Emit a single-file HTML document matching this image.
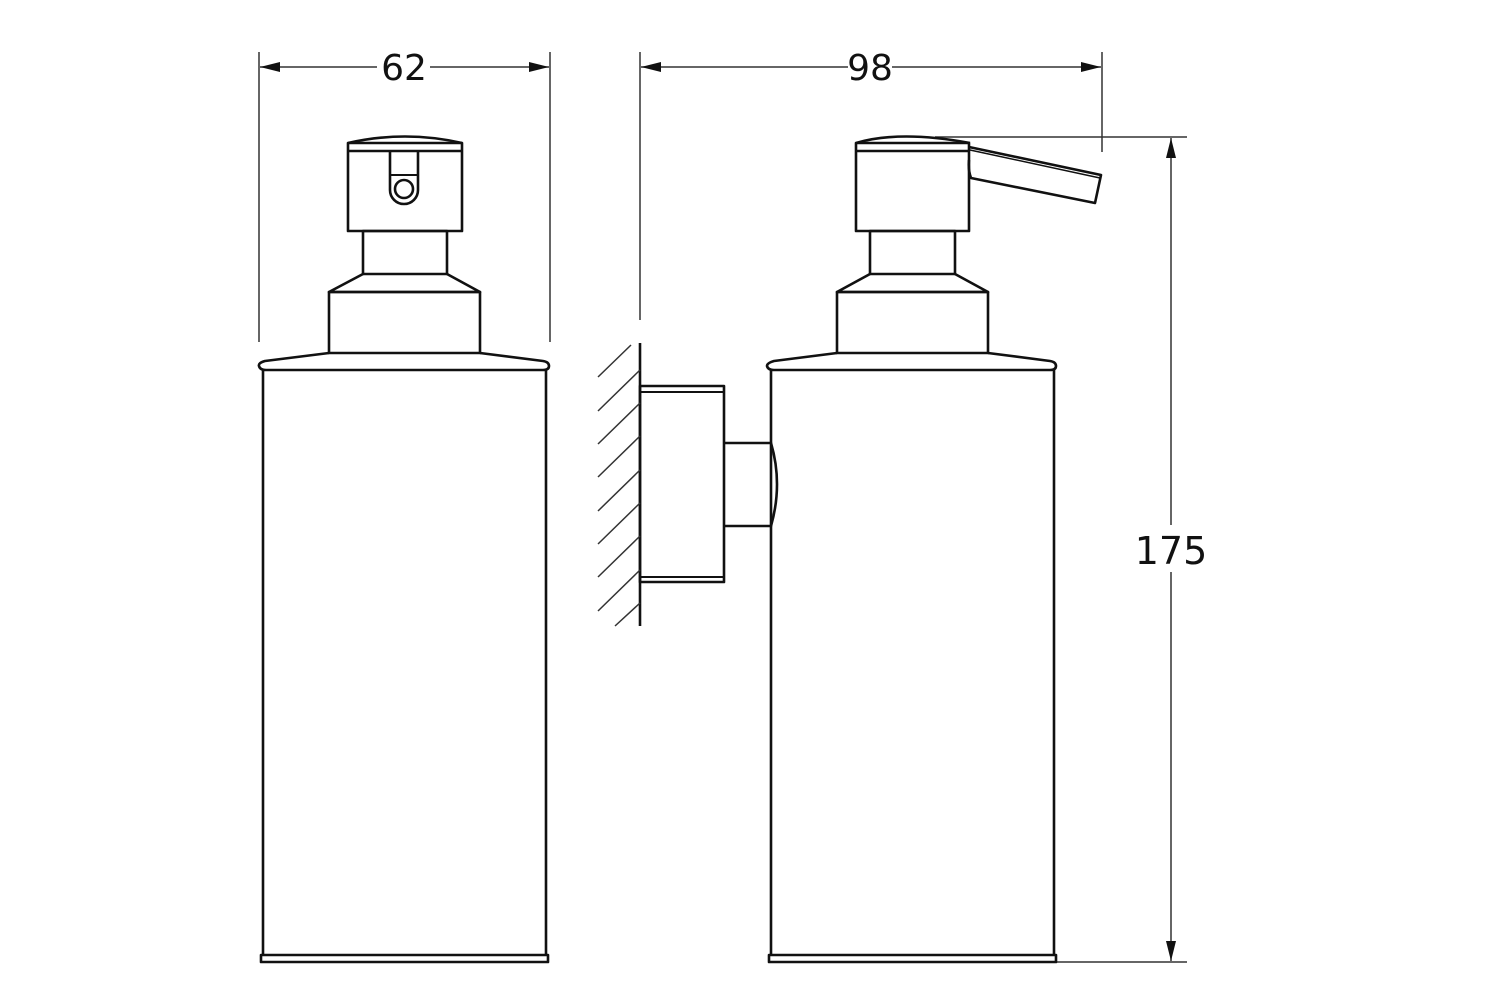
<!DOCTYPE html>
<html><head><meta charset="utf-8"><style>
html,body{margin:0;padding:0;background:#fff;width:1500px;height:1000px;overflow:hidden}
svg{display:block}
text{font-family:"DejaVu Sans","Liberation Sans",sans-serif;fill:#111}
</style></head><body>
<svg width="1500" height="1000" viewBox="0 0 1500 1000" xmlns="http://www.w3.org/2000/svg">
<defs>
<marker id="ah" viewBox="0 0 20 10" refX="20" refY="5" markerWidth="20" markerHeight="10" markerUnits="userSpaceOnUse" orient="auto-start-reverse">
<path d="M0,0 L20,5 L0,10 z" fill="#111"/></marker>
</defs>
<g stroke="#333" stroke-width="1.5" fill="none">
<!-- dim 62 -->
<line x1="259" y1="52" x2="259" y2="342"/>
<line x1="550" y1="52" x2="550" y2="342"/>
<line x1="260" y1="67" x2="377" y2="67" marker-start="url(#ah)"/>
<line x1="430" y1="67" x2="549" y2="67" marker-end="url(#ah)"/>
<!-- dim 98 -->
<line x1="640" y1="52" x2="640" y2="320"/>
<line x1="1102" y1="52" x2="1102" y2="152"/>
<line x1="641" y1="67" x2="848" y2="67" marker-start="url(#ah)"/>
<line x1="892" y1="67" x2="1101" y2="67" marker-end="url(#ah)"/>
<!-- dim 175 -->
<line x1="935" y1="137" x2="1187" y2="137"/>
<line x1="1052" y1="962" x2="1187" y2="962"/>
<line x1="1171" y1="138" x2="1171" y2="525" marker-start="url(#ah)"/>
<line x1="1171" y1="572" x2="1171" y2="961" marker-end="url(#ah)"/>
</g>
<text x="404" y="80" font-size="36" text-anchor="middle">62</text>
<text x="870" y="80" font-size="36" text-anchor="middle">98</text>
<text x="1171" y="564" font-size="38" text-anchor="middle">175</text>

<g stroke="#111" stroke-width="2.6" fill="none" stroke-linejoin="round">
<!-- LEFT dispenser -->
<path d="M348,143 Q405,130 462,143"/>
<rect x="348" y="143" width="114" height="88"/>
<line x1="348" y1="151" x2="462" y2="151"/>
<path d="M390,151 L390,190 A14,14 0 0 0 418,190 L418,151"/>
<line x1="390" y1="175" x2="418" y2="175" stroke-width="2"/>
<circle cx="404" cy="189" r="9"/>
<rect x="363" y="231" width="84" height="43"/>
<path d="M363,274 L329,292 L480,292 L447,274"/>
<rect x="329" y="292" width="151" height="61"/>
<path d="M329,353 L265,361 Q258,363 259,366 Q260,370 266,370 L543,370 Q549,370 549,366 Q549,362 543,361 L480,353"/>
<path d="M263,370 L263,955 M546,370 L546,955"/>
<rect x="261" y="955" width="287" height="7"/>

<!-- RIGHT dispenser -->
<path d="M856,143 Q900,130 970,143"/>
<rect x="856" y="143" width="113" height="88"/>
<line x1="856" y1="151" x2="969" y2="151"/>
<path d="M969,147 L1101,175 L1095,203 L971,178 Q968,170 969,160"/>
<line x1="970" y1="150" x2="1100" y2="178" stroke-width="1.5"/>
<rect x="870" y="231" width="85" height="43"/>
<path d="M870,274 L837,292 L988,292 L955,274"/>
<rect x="837" y="292" width="151" height="61"/>
<path d="M837,353 L774,361 Q767,363 767,366 Q768,370 774,370 L1050,370 Q1056,370 1056,366 Q1056,362 1050,361 L988,353"/>
<path d="M771,370 L771,955 M1054,370 L1054,955"/>
<rect x="769" y="955" width="287" height="7"/>

<!-- bracket -->
<line x1="640" y1="343" x2="640" y2="626"/>
<rect x="640" y="386" width="84" height="196"/>
<line x1="640" y1="392" x2="724" y2="392" stroke-width="2"/>
<line x1="640" y1="577" x2="724" y2="577" stroke-width="2"/>
<path d="M724,443 L771,443 Q783,484 771,526 L724,526"/>
</g>
<g stroke="#333" stroke-width="1.5">
<line x1="598" y1="377" x2="631" y2="345"/>
<line x1="598" y1="411" x2="640" y2="370"/>
<line x1="598" y1="444" x2="640" y2="403"/>
<line x1="598" y1="477" x2="640" y2="436"/>
<line x1="598" y1="511" x2="640" y2="470"/>
<line x1="598" y1="544" x2="640" y2="503"/>
<line x1="598" y1="577" x2="640" y2="536"/>
<line x1="598" y1="611" x2="640" y2="570"/>
<line x1="615" y1="626" x2="640" y2="603"/>
</g>
</svg>
</body></html>
